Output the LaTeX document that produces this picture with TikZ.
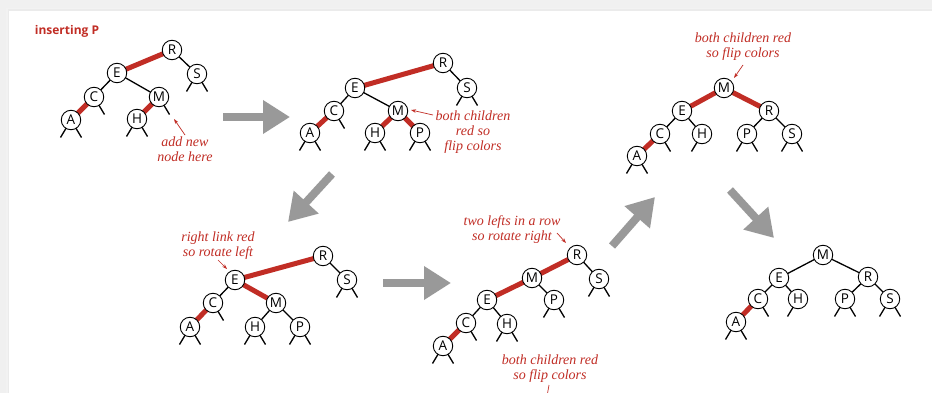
\documentclass[tikz,border=0pt]{standalone}
\usepackage{fontspec}
\setmainfont{Liberation Serif}
\setsansfont{Open Sans}
\usetikzlibrary{arrows.meta}
\definecolor{rbred}{RGB}{193,45,37}
\definecolor{flowgray}{RGB}{153,153,153}
\definecolor{pagegray}{RGB}{240,240,240}
\pgfdeclarelayer{bg}
\pgfdeclarelayer{links}
\pgfsetlayers{bg,links,main}

\tikzset{
  key/.style={circle, draw=black, line width=0.9pt, fill=white,
    minimum size=19.5pt, inner sep=0pt,
    font=\sffamily\fontsize{13.5}{13.5}\selectfont},
  blk/.style={line width=1.3pt, black},
  redl/.style={line width=5pt, rbred},
  nil/.style={line width=1.3pt, black},
  note/.style={text=rbred, font=\itshape\fontsize{14}{15}\selectfont,
    align=center, inner sep=0pt},
  callout/.style={rbred, line width=0.7pt, -{Stealth[length=5pt,width=3.5pt]}},
  flow/.style={flowgray, line width=8pt, -{Triangle[length=27pt,width=32pt]}},
}

% null links hanging below a key
\newcommand\stubL[1]{\draw[nil] (#1.center) -- ++(-10.5,17.5);}
\newcommand\stubR[1]{\draw[nil] (#1.center) -- ++(10.5,17.5);}
\newcommand\stubLR[1]{\stubL{#1}\stubR{#1}}

\begin{document}
\begin{tikzpicture}[x=1pt,y=-1pt]
\useasboundingbox (0,0) rectangle (932,393);

% page with a soft shadow
\begin{pgfonlayer}{bg}
  \fill[pagegray] (0,0) rectangle (932,393);
  \fill[black!5] (6,8) rectangle (932,393);
  \fill[black!8] (7.5,9.5) rectangle (932,393);
  \fill[white] (9,11) rectangle (932,393);
\end{pgfonlayer}

\node[text=rbred, font=\sffamily\bfseries\fontsize{12}{13}\selectfont] (title) at (67,31) {inserting P};

% ---- tree 1: add new node
\node[key] (aR) at (172,50) {R};
\node[key] (aS) at (197,74) {S};
\node[key] (aE) at (117,73) {E};
\node[key] (aC) at (94,97) {C};
\node[key] (aM) at (159,97) {M};
\node[key] (aA) at (71,120) {A};
\node[key] (aH) at (137,119) {H};
\begin{pgfonlayer}{links}
  \draw[redl] (aR.center) -- (aE.center);
  \draw[blk] (aR.center) -- (aS.center);
  \draw[blk] (aE.center) -- (aC.center);
  \draw[blk] (aE.center) -- (aM.center);
  \draw[redl] (aC.center) -- (aA.center);
  \draw[redl] (aM.center) -- (aH.center);
  \stubLR{aS}\stubR{aC}\stubLR{aA}\stubLR{aH}\stubR{aM}
\end{pgfonlayer}
\node[note] (na) at (185,149) {add new\\node here};
\coordinate (ca1) at (185,135);
\coordinate (ca2) at (174,119);
\draw[callout] (ca1) -- (ca2);

% ---- tree 2: P attached under M
\node[key] (bR) at (443,63) {R};
\node[key] (bS) at (467,88) {S};
\node[key] (bE) at (355,88) {E};
\node[key] (bC) at (334,111) {C};
\node[key] (bM) at (398,111) {M};
\node[key] (bA) at (310,133) {A};
\node[key] (bH) at (375,133) {H};
\node[key] (bP) at (420,133) {P};
\begin{pgfonlayer}{links}
  \draw[redl] (bR.center) -- (bE.center);
  \draw[blk] (bR.center) -- (bS.center);
  \draw[blk] (bE.center) -- (bC.center);
  \draw[blk] (bE.center) -- (bM.center);
  \draw[redl] (bC.center) -- (bA.center);
  \draw[redl] (bM.center) -- (bH.center);
  \draw[redl] (bM.center) -- (bP.center);
  \stubLR{bS}\stubR{bC}\stubLR{bA}\stubLR{bH}\stubLR{bP}
\end{pgfonlayer}
\node[note] (nb) at (473,132) {both children\\red so\\flip colors};
\coordinate (cb1) at (433,115);
\coordinate (cb2) at (411,110);
\draw[callout] (cb1) -- (cb2);

% ---- tree 3: after the final flip
\node[key] (cM) at (724,88) {M};
\node[key] (cE) at (682,111) {E};
\node[key] (cR) at (769,111) {R};
\node[key] (cC) at (660,134) {C};
\node[key] (cH) at (702,134) {H};
\node[key] (cP) at (747,134) {P};
\node[key] (cS) at (792,134) {S};
\node[key] (cA) at (637,156) {A};
\begin{pgfonlayer}{links}
  \draw[redl] (cM.center) -- (cE.center);
  \draw[redl] (cM.center) -- (cR.center);
  \draw[blk] (cE.center) -- (cC.center);
  \draw[blk] (cE.center) -- (cH.center);
  \draw[blk] (cR.center) -- (cP.center);
  \draw[blk] (cR.center) -- (cS.center);
  \draw[redl] (cC.center) -- (cA.center);
  \stubR{cC}\stubL{cH}\stubLR{cP}\stubLR{cS}\stubLR{cA}
\end{pgfonlayer}
\node[note] (nc) at (743,46.5) {both children red\\so flip colors};
\coordinate (cc1) at (743,65);
\coordinate (cc2) at (734,78);
\draw[callout] (cc1) -- (cc2);

% ---- tree 4: right link red
\node[key] (dR) at (323,256) {R};
\node[key] (dS) at (347,280) {S};
\node[key] (dE) at (235,280) {E};
\node[key] (dC) at (213,303) {C};
\node[key] (dM) at (276,303) {M};
\node[key] (dA) at (190,327) {A};
\node[key] (dH) at (255,327) {H};
\node[key] (dP) at (300,327) {P};
\begin{pgfonlayer}{links}
  \draw[redl] (dR.center) -- (dE.center);
  \draw[blk] (dR.center) -- (dS.center);
  \draw[blk] (dE.center) -- (dC.center);
  \draw[redl] (dE.center) -- (dM.center);
  \draw[redl] (dC.center) -- (dA.center);
  \draw[blk] (dM.center) -- (dH.center);
  \draw[blk] (dM.center) -- (dP.center);
  \stubLR{dS}\stubR{dC}\stubLR{dA}\stubLR{dH}\stubLR{dP}
\end{pgfonlayer}
\node[note] (nd) at (218,245.5) {right link red\\so rotate left};
\coordinate (cd1) at (218,260);
\coordinate (cd2) at (227,269);
\draw[callout] (cd1) -- (cd2);

% ---- tree 5: two lefts in a row
\node[key] (eR) at (577,255) {R};
\node[key] (eS) at (599,279) {S};
\node[key] (eM) at (532,278) {M};
\node[key] (eP) at (554,300) {P};
\node[key] (eE) at (487,300) {E};
\node[key] (eC) at (466,323) {C};
\node[key] (eH) at (507,324) {H};
\node[key] (eA) at (443,346) {A};
\begin{pgfonlayer}{links}
  \draw[redl] (eR.center) -- (eM.center);
  \draw[blk] (eR.center) -- (eS.center);
  \draw[redl] (eM.center) -- (eE.center);
  \draw[blk] (eM.center) -- (eP.center);
  \draw[blk] (eE.center) -- (eC.center);
  \draw[blk] (eE.center) -- (eH.center);
  \draw[redl] (eC.center) -- (eA.center);
  \stubLR{eS}\stubLR{eP}\stubR{eC}\stubLR{eH}\stubLR{eA}
\end{pgfonlayer}
\node[note] (ne) at (512,229.5) {two lefts in a row\\so rotate right};
\coordinate (ce1) at (557,233);
\coordinate (ce2) at (566,243);
\draw[callout] (ce1) -- (ce2);
\node[note] (nf) at (550,368.5) {both children red\\so flip colors};
\coordinate (cf1) at (549,385);
\coordinate (cf2) at (546,402);
\draw[callout] (cf1) -- (cf2);

% ---- tree 6: result
\node[key] (fM) at (823,255) {M};
\node[key] (fE) at (779,278) {E};
\node[key] (fR) at (868,277) {R};
\node[key] (fC) at (758,299) {C};
\node[key] (fH) at (798,299) {H};
\node[key] (fP) at (845,299) {P};
\node[key] (fS) at (890,299) {S};
\node[key] (fA) at (736,322) {A};
\begin{pgfonlayer}{links}
  \draw[blk] (fM.center) -- (fE.center);
  \draw[blk] (fM.center) -- (fR.center);
  \draw[blk] (fE.center) -- (fC.center);
  \draw[blk] (fE.center) -- (fH.center);
  \draw[blk] (fR.center) -- (fP.center);
  \draw[blk] (fR.center) -- (fS.center);
  \draw[redl] (fC.center) -- (fA.center);
  \stubR{fC}\stubL{fH}\stubLR{fP}\stubLR{fS}\stubLR{fA}
\end{pgfonlayer}

% ---- step arrows
\coordinate (g1a) at (223,117);  \coordinate (g1b) at (290,117);
\coordinate (g2a) at (332,174);  \coordinate (g2b) at (288,222);
\coordinate (g3a) at (383,283);  \coordinate (g3b) at (451,283);
\coordinate (g4a) at (612,246);  \coordinate (g4b) at (655,197);
\coordinate (g5a) at (730,190);  \coordinate (g5b) at (774,238);
\draw[flow] (g1a) -- (g1b);
\draw[flow] (g2a) -- (g2b);
\draw[flow] (g3a) -- (g3b);
\draw[flow] (g4a) -- (g4b);
\draw[flow] (g5a) -- (g5b);
\end{tikzpicture}
\end{document}
